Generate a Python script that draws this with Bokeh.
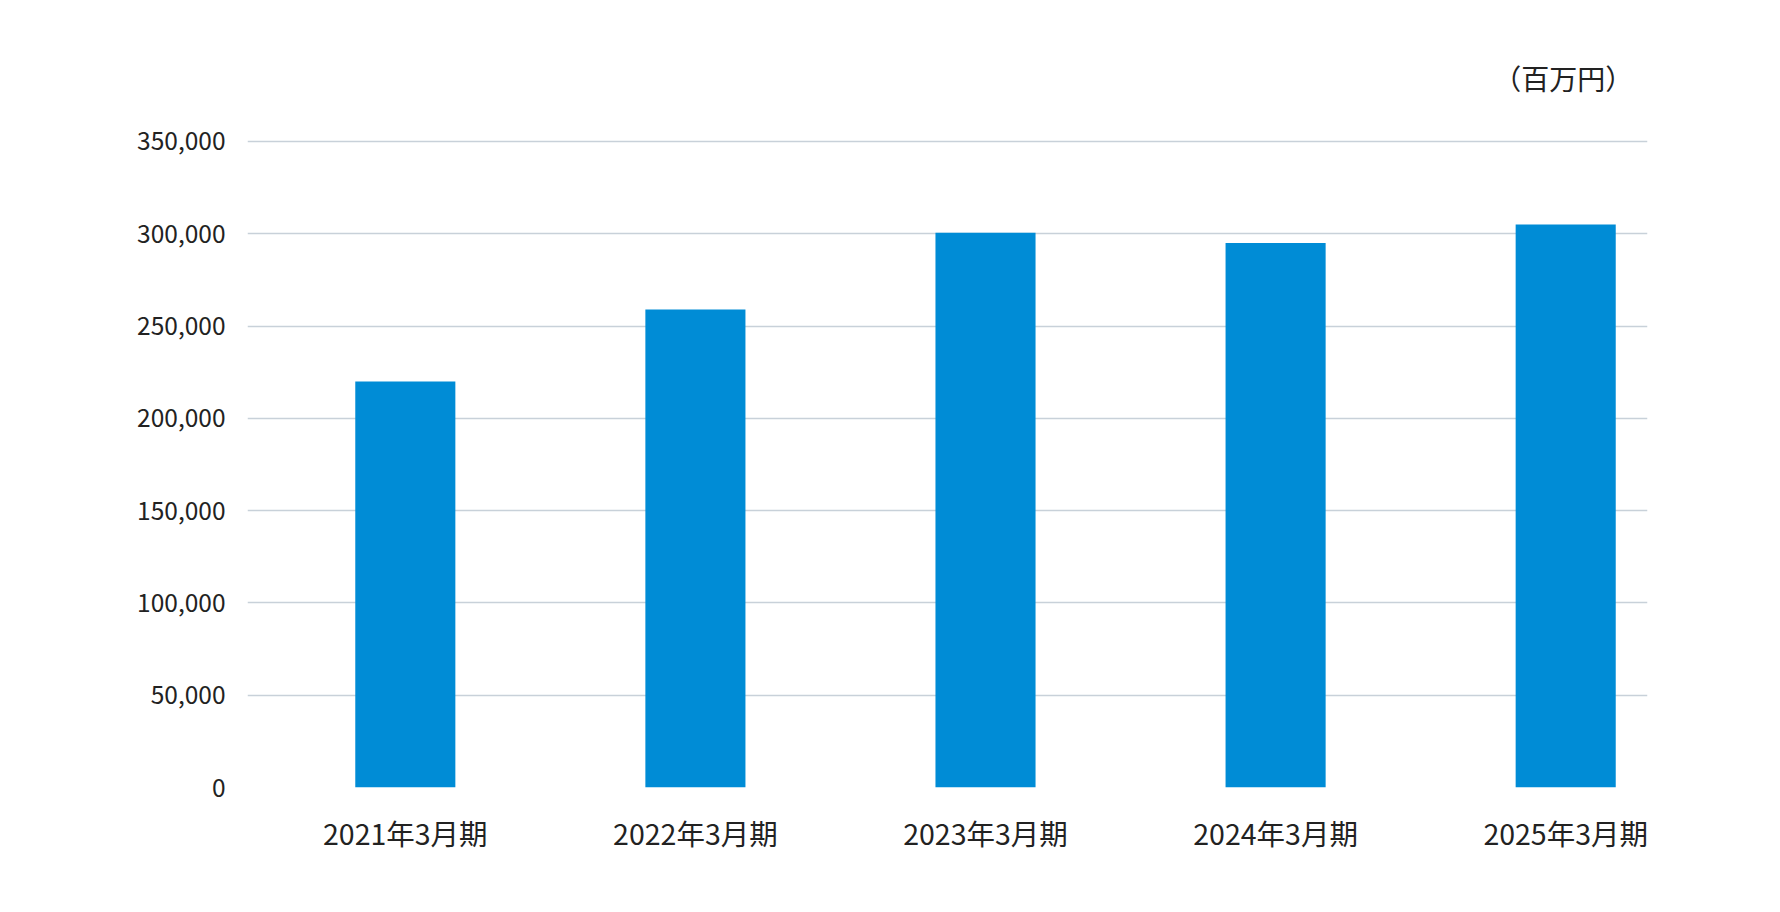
from bokeh.plotting import figure
from bokeh.models import FixedTicker, Range1d, Label, ColumnDataSource
from bokeh.embed import file_html
from bokeh.resources import INLINE

# ---- data ----
categories = ["2021年3月期", "2022年3月期", "2023年3月期", "2024年3月期", "2025年3月期"]
sales = [220000, 259000, 300500, 295000, 305000]
y_ticks = [0, 50000, 100000, 150000, 200000, 250000, 300000, 350000]
y_tick_labels = ["0", "50,000", "100,000", "150,000", "200,000", "250,000", "300,000", "350,000"]
unit_label = "（百万円）"

# ---- layout ----
W, H = 1764, 896
B_LEFT, B_RIGHT, B_TOP, B_BOTTOM = 247, 117, 48, 109
frame_h = H - B_TOP - B_BOTTOM
px_per_50k = 92.3
y_end = 50000 * frame_h / px_per_50k

FONT = "Noto Sans CJK JP"
BAR_COLOR = "#008cd6"
GRID_COLOR = "#c8d1d9"
TEXT_COLOR = "#222222"
bar_width = 0.345

xs = list(range(len(categories)))
src = ColumnDataSource(dict(x=xs, top=sales))

p = figure(width=W, height=H, output_backend="svg", toolbar_location=None,
           x_range=Range1d(-0.544, 4.282), y_range=Range1d(0, y_end),
           min_border_left=B_LEFT, min_border_right=B_RIGHT,
           min_border_top=B_TOP, min_border_bottom=B_BOTTOM)
p.outline_line_color = None
p.background_fill_color = "white"
p.border_fill_color = "white"

p.vbar(x="x", top="top", bottom=0, width=bar_width, source=src,
       fill_color=BAR_COLOR, line_color=None)

# x axis
p.xaxis.ticker = FixedTicker(ticks=xs)
p.xaxis.major_label_overrides = {i: c for i, c in zip(xs, categories)}
p.xaxis.axis_line_color = None
p.xaxis.major_tick_line_color = None
p.xaxis.minor_tick_line_color = None
p.xaxis.major_tick_out = 0
p.xaxis.major_tick_in = 0
p.xaxis.major_label_standoff = 24
p.xaxis.major_label_text_font = FONT
p.xaxis.major_label_text_font_size = "28.5px"
p.xaxis.major_label_text_color = TEXT_COLOR
p.xgrid.grid_line_color = None

# y axis
p.yaxis.ticker = FixedTicker(ticks=y_ticks)
p.yaxis.major_label_overrides = {t: l for t, l in zip(y_ticks, y_tick_labels)}
p.yaxis.axis_line_color = None
p.yaxis.major_tick_line_color = None
p.yaxis.minor_tick_line_color = None
p.yaxis.major_tick_out = 0
p.yaxis.major_tick_in = 0
p.yaxis.major_label_standoff = 22
p.yaxis.major_label_text_font = FONT
p.yaxis.major_label_text_font_size = "24.5px"
p.yaxis.major_label_text_color = TEXT_COLOR
p.ygrid.grid_line_color = GRID_COLOR
p.ygrid.grid_line_width = 1.6

# unit label, right-aligned near last bar's right edge
unit = Label(x=xs[-1] + bar_width / 2 + 0.06, y=y_ticks[-1] + 34500,
             text=unit_label, text_align="right", text_baseline="middle",
             text_font=FONT, text_font_size="28px", text_color=TEXT_COLOR)
p.add_layout(unit)

open("out.html", "w").write(file_html(p, INLINE))
